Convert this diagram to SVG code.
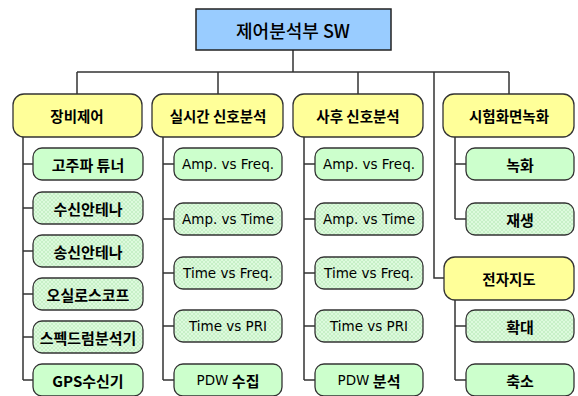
<svg xmlns="http://www.w3.org/2000/svg" width="578" height="396" viewBox="0 0 578 396">
<defs>
<pattern id="hatch" width="4" height="4" patternUnits="userSpaceOnUse">
<rect width="4" height="4" fill="#DDFADD"/>
<path d="M0 0L4 4M4 0L0 4" stroke="#C2EEC2" stroke-width="0.8"/>
</pattern>
</defs>
<style>
text{font-family:"Noto Sans CJK KR","Liberation Sans",sans-serif;text-anchor:middle;dominant-baseline:central;fill:#000}
.top{fill:#99CCFF;stroke:#222;stroke-width:1.5}
.top-t{font-size:18px;font-weight:500}
.l1{fill:#FFFF99;stroke:#333;stroke-width:1.3}
.l1-t{font-size:14.5px;font-weight:bold}
.lf{fill:#CCFFCC;stroke:#333;stroke-width:1.3}
.lp{fill:url(#hatch);stroke:#333;stroke-width:1.3}
.lf-t{font-size:15px;font-weight:bold}
.en{font-family:"DejaVu Sans","Liberation Sans",sans-serif;font-size:13.5px;font-weight:normal}
.c{fill:none;stroke:#333;stroke-width:1.5}
</style>
<g id="connectors">
<path class="c" d="M293 50V72M77 72H509M77 72V94M218 72V94M358 72V94M509 72V94M434 72V278H444"/>
<path class="c" d="M23 137V380M23 164H33M23 208H33M23 251H33M23 294H33M23 337H33M23 380H33"/>
<path class="c" d="M163 137V380M163 164H174M163 219H174M163 273H174M163 326H174M163 380H174"/>
<path class="c" d="M304 137V380M304 164H315M304 219H315M304 273H315M304 326H315M304 380H315"/>
<path class="c" d="M455 137V219M455 164H466M455 219H466"/>
<path class="c" d="M455 300V380M455 326H466M455 380H466"/>
</g>
<g id="root"><rect class="top" x="196" y="9" width="195" height="41"/><text class="top-t" x="293" y="30">제어분석부 SW</text></g>
<g id="n-equip"><rect class="l1" x="13" y="94" width="129" height="43" rx="11"/><text class="l1-t" x="77" y="115">장비제어</text></g>
<g id="n-rt"><rect class="l1" x="152" y="94" width="131" height="43" rx="11"/><text class="l1-t" x="218" y="115">실시간 신호분석</text></g>
<g id="n-post"><rect class="l1" x="293" y="94" width="130" height="43" rx="11"/><text class="l1-t" x="358" y="115">사후 신호분석</text></g>
<g id="n-rec"><rect class="l1" x="443" y="94" width="131" height="43" rx="11"/><text class="l1-t" x="509" y="115">시험화면녹화</text></g>
<g id="n-map"><rect class="l1" x="444" y="257" width="130" height="43" rx="11"/><text class="l1-t" x="509" y="278">전자지도</text></g>

<g id="e1"><rect class="lf" x="33" y="148" width="110" height="32" rx="9"/><text class="lf-t" x="88" y="164">고주파 튜너</text></g>
<g id="e2"><rect class="lp" x="33" y="192" width="110" height="32" rx="9"/><text class="lf-t" x="88" y="208">수신안테나</text></g>
<g id="e3"><rect class="lp" x="33" y="235" width="110" height="32" rx="9"/><text class="lf-t" x="88" y="251">송신안테나</text></g>
<g id="e4"><rect class="lp" x="33" y="278" width="110" height="32" rx="9"/><text class="lf-t" x="88" y="294">오실로스코프</text></g>
<g id="e5"><rect class="lp" x="33" y="321" width="110" height="32" rx="9"/><text class="lf-t" x="88" y="337">스펙드럼분석기</text></g>
<g id="e6"><rect class="lf" x="33" y="364" width="110" height="32" rx="9"/><text class="lf-t" x="88" y="380">GPS수신기</text></g>

<g id="r1"><rect class="lf" x="174" y="148" width="108" height="32" rx="9"/><text class="lf-t en" x="228" y="164">Amp. vs Freq.</text></g>
<g id="r2"><rect class="lp" x="174" y="203" width="108" height="32" rx="9"/><text class="lf-t en" x="228" y="219">Amp. vs Time</text></g>
<g id="r3"><rect class="lp" x="174" y="257" width="108" height="32" rx="9"/><text class="lf-t en" x="228" y="273">Time vs Freq.</text></g>
<g id="r4"><rect class="lp" x="174" y="310" width="108" height="32" rx="9"/><text class="lf-t en" x="228" y="326">Time vs PRI</text></g>
<g id="r5"><rect class="lf" x="174" y="364" width="108" height="32" rx="9"/><text class="lf-t" x="228" y="380"><tspan class="en">PDW</tspan> 수집</text></g>

<g id="p1"><rect class="lf" x="315" y="148" width="108" height="32" rx="9"/><text class="lf-t en" x="369" y="164">Amp. vs Freq.</text></g>
<g id="p2"><rect class="lp" x="315" y="203" width="108" height="32" rx="9"/><text class="lf-t en" x="369" y="219">Amp. vs Time</text></g>
<g id="p3"><rect class="lp" x="315" y="257" width="108" height="32" rx="9"/><text class="lf-t en" x="369" y="273">Time vs Freq.</text></g>
<g id="p4"><rect class="lp" x="315" y="310" width="108" height="32" rx="9"/><text class="lf-t en" x="369" y="326">Time vs PRI</text></g>
<g id="p5"><rect class="lf" x="315" y="364" width="108" height="32" rx="9"/><text class="lf-t" x="369" y="380"><tspan class="en">PDW</tspan> 분석</text></g>

<g id="v1"><rect class="lf" x="466" y="148" width="108" height="32" rx="9"/><text class="lf-t" x="520" y="164">녹화</text></g>
<g id="v2"><rect class="lp" x="466" y="203" width="108" height="32" rx="9"/><text class="lf-t" x="520" y="219">재생</text></g>
<g id="m1"><rect class="lp" x="466" y="310" width="108" height="32" rx="9"/><text class="lf-t" x="520" y="326">확대</text></g>
<g id="m2"><rect class="lf" x="466" y="364" width="108" height="32" rx="9"/><text class="lf-t" x="520" y="380">축소</text></g>
</svg>
